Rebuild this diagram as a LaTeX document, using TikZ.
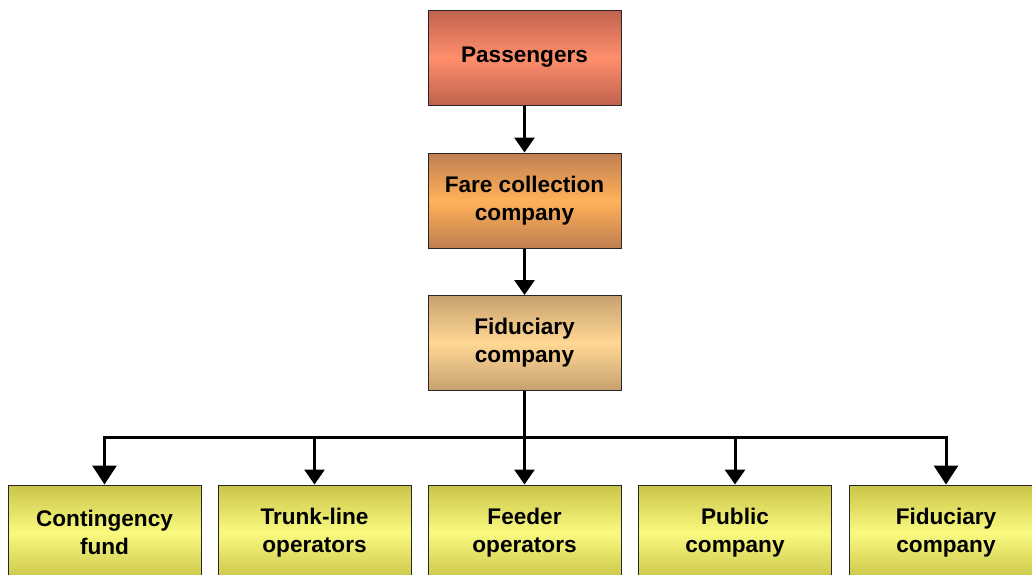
\documentclass[tikz,border=0pt]{standalone}
\usepackage{fontspec}
\setmainfont{Liberation Sans}
\usetikzlibrary{arrows.meta}
\definecolor{redtop}{RGB}{192,98,78}
\definecolor{redmid}{RGB}{255,142,108}
\definecolor{orgtop}{RGB}{192,126,82}
\definecolor{orgmid}{RGB}{255,178,88}
\definecolor{tantop}{RGB}{200,160,112}
\definecolor{tanmid}{RGB}{255,216,148}
\definecolor{yeltop}{RGB}{200,196,72}
\definecolor{yelmid}{RGB}{250,250,128}
\tikzset{
  box/.style={draw=black!85, line width=1pt, minimum width=193pt, minimum height=95pt,
    inner sep=0pt, align=center, font=\bfseries\fontsize{22.6}{28}\selectfont},
  tier/.style 2 args={box, top color=#1, bottom color=#1, middle color=#2},
  link/.style={line width=3pt, line join=miter},
  smallhead/.style={link, -{Triangle[length=15pt,width=20pt]}},
  bighead/.style={link, -{Triangle[length=19pt,width=24pt]}},
}
\begin{document}
\begin{tikzpicture}[x=1pt,y=-1pt]
  \useasboundingbox (0,0) rectangle (1032,574);
  \clip (0,0) rectangle (1032,574);
  % chain of boxes at the top
  \node[tier={redtop}{redmid}] (pass) at (524.5,57.5) {Passengers};
  \node[tier={orgtop}{orgmid}] (fare) at (524.5,200.5) {Fare collection\\company};
  \node[tier={tantop}{tanmid}] (fidu) at (524.5,343) {Fiduciary\\company};
  % row of recipients
  \node[tier={yeltop}{yelmid}] (cont) at (104.5,532.5) {Contingency\\fund};
  \node[tier={yeltop}{yelmid}] (trunk) at (314.5,532.5) {Trunk-line\\operators};
  \node[tier={yeltop}{yelmid}] (feed) at (524.5,532.5) {Feeder\\operators};
  \node[tier={yeltop}{yelmid}] (pub) at (735,532.5) {Public\\company};
  \node[tier={yeltop}{yelmid}] (fid2) at (946,532.5) {Fiduciary\\company};
  % connectors
  \draw[smallhead] (pass) -- (fare);
  \draw[smallhead] (fare) -- (fidu);
  \coordinate (bus) at (524.5,437);
  \draw[smallhead] (fidu) -- (feed);
  \draw[bighead] (bus) -| (cont.north);
  \draw[bighead] (bus) -| (fid2.north);
  \draw[smallhead] (trunk.north |- bus) -- (trunk.north);
  \draw[smallhead] (pub.north |- bus) -- (pub.north);
\end{tikzpicture}
\end{document}
